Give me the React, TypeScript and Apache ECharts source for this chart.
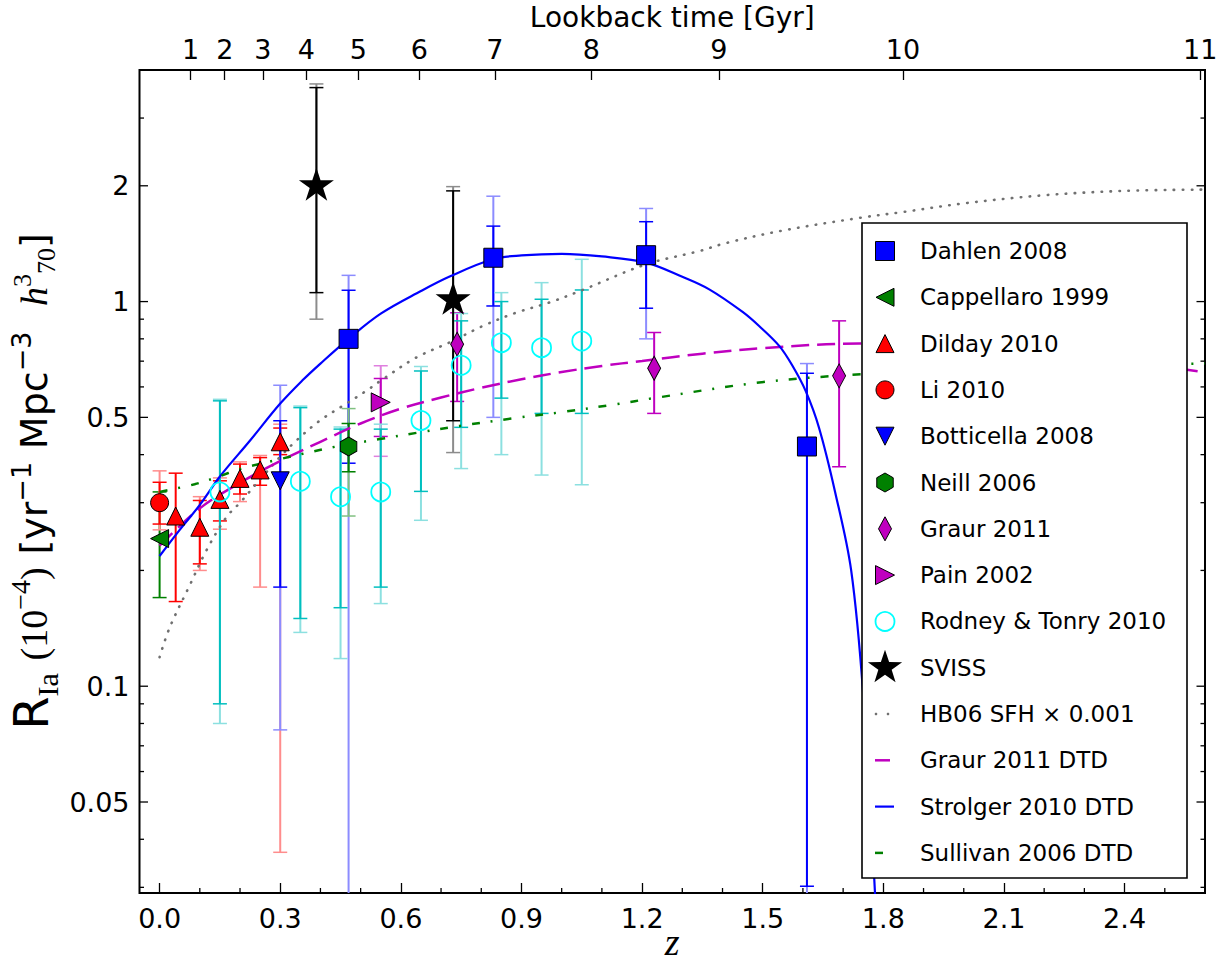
import React, { useEffect, useRef } from "react";
import * as echarts from "echarts";

// ---------- axes ----------
const X_MIN = -0.05;
const X_MAX = 2.6;
const Y_MIN = 0.029;
const Y_MAX = 4;

const xMajorTicks = [0, 0.3, 0.6, 0.9, 1.2, 1.5, 1.8, 2.1, 2.4];
const xMinorTicks = [0.1, 0.2, 0.4, 0.5, 0.7, 0.8, 1.0, 1.1, 1.3, 1.4, 1.6, 1.7, 1.9, 2.0, 2.2, 2.3, 2.5];
const yMajorTicks = [0.05, 0.1, 0.5, 1, 2];
const yMinorTicks = [0.03, 0.04, 0.06, 0.07, 0.08, 0.09, 0.2, 0.3, 0.4, 0.6, 0.7, 0.8, 0.9, 3];
const lookbackLabels = ["1", "2", "3", "4", "5", "6", "7", "8", "9", "10", "11"];
const lookbackZ = [0.077, 0.162, 0.257, 0.365, 0.494, 0.646, 0.834, 1.074, 1.391, 1.849, 2.588];

// ---------- measurements: [z, rate, statLo, statHi, totLo, totHi] ----------
const dahlen2008 = [
  [0.47, 0.8, 0.38, 1.07, 0.001, 1.17],
  [0.83, 1.3, 0.974, 1.571, 0.5, 1.879],
  [1.21, 1.32, 0.961, 1.613, 0.8, 1.746],
  [1.61, 0.42, 0.0302, 0.651, 0.001, 0.69],
];
const cappellaro1999 = [[0.0, 0.242, 0.17, 0.32, null, null]];
const dilday2010 = [
  [0.04, 0.277, 0.166, 0.358, null, null],
  [0.1, 0.259, 0.208, 0.304, 0.2, 0.311],
  [0.15, 0.306, 0.269, 0.342, 0.256, 0.348],
  [0.2, 0.347, 0.316, 0.378, 0.302, 0.383],
  [0.25, 0.365, 0.333, 0.393, 0.181, 0.398],
  [0.3, 0.432, 0.4, 0.469, 0.037, 0.48],
];
const li2010 = [[0.0, 0.3, 0.264, 0.339, 0.255, 0.363]];
const botticella2008 = [[0.3, 0.342, 0.181, 0.49, 0.077, 0.606]];
const neill2006 = [[0.47, 0.42, 0.361, 0.482, 0.277, 0.527]];
const graur2011 = [
  [0.74, 0.775, 0.55, 0.935, null, null],
  [1.23, 0.671, 0.512, 0.831, null, null],
  [1.69, 0.641, 0.372, 0.891, null, null],
];
const pain2002 = [[0.55, 0.547, 0.446, 0.631, 0.396, 0.681]];
const rodneyTonry2010 = [
  [0.15, 0.32, 0.09, 0.552, 0.08, 0.557],
  [0.35, 0.341, 0.15, 0.53, 0.138, 0.535],
  [0.45, 0.311, 0.16, 0.466, 0.118, 0.472],
  [0.55, 0.32, 0.181, 0.466, 0.164, 0.48],
  [0.65, 0.491, 0.321, 0.66, 0.27, 0.678],
  [0.75, 0.683, 0.471, 0.891, 0.368, 0.931],
  [0.85, 0.782, 0.561, 1.0, 0.4, 1.055],
  [0.95, 0.759, 0.512, 1.014, 0.354, 1.12],
  [1.05, 0.79, 0.512, 1.072, 0.334, 1.288],
];
const sviss = [
  [0.39, 2.02, 1.055, 3.6, 0.9, 3.68],
  [0.73, 1.02, 0.49, 1.94, 0.405, 1.99],
];

// ---------- model curves: [z, rate] ----------
const hb06Sfh = [
  [0.0, 0.119], [0.025, 0.142], [0.075, 0.183], [0.116, 0.225], [0.166, 0.275], [0.2, 0.3],
  [0.25, 0.345], [0.3, 0.395], [0.34, 0.435], [0.398, 0.49], [0.456, 0.536], [0.514, 0.586],
  [0.555, 0.628], [0.638, 0.715], [0.721, 0.783], [0.804, 0.864], [0.887, 0.936], [0.969, 0.994],
  [1.05, 1.07], [1.21, 1.25], [1.342, 1.353], [1.409, 1.42], [1.55, 1.53], [1.74, 1.65],
  [1.85, 1.71], [2.0, 1.8], [2.2, 1.89], [2.4, 1.94], [2.6, 1.955],
];
const graurDtd = [
  [0.0, 0.232], [0.1, 0.29], [0.2, 0.338], [0.3, 0.385], [0.4, 0.432], [0.5, 0.482],
  [0.6, 0.527], [0.7, 0.563], [0.8, 0.597], [0.9, 0.628], [1.0, 0.656], [1.1, 0.68],
  [1.2, 0.701], [1.35, 0.732], [1.5, 0.757], [1.74, 0.778], [2.0, 0.77], [2.3, 0.72],
  [2.6, 0.655],
];
const strolgerDtd = [
  [0.0, 0.218], [0.05, 0.255], [0.1, 0.296], [0.15, 0.351], [0.224, 0.434], [0.3, 0.543],
  [0.356, 0.625], [0.4, 0.69], [0.47, 0.8], [0.55, 0.93], [0.65, 1.065], [0.72, 1.16],
  [0.83, 1.29], [0.9, 1.318], [1.0, 1.33], [1.1, 1.31], [1.21, 1.263], [1.3, 1.16],
  [1.367, 1.076], [1.45, 0.94], [1.491, 0.864], [1.541, 0.767], [1.574, 0.681], [1.607, 0.585],
  [1.64, 0.47], [1.68, 0.32], [1.72, 0.2], [1.75, 0.095], [1.78, 0.028],
];
const sullivanDtd = [
  [0.0, 0.32], [0.087, 0.335], [0.141, 0.349], [0.2, 0.367], [0.298, 0.389], [0.356, 0.402],
  [0.44, 0.42], [0.547, 0.439], [0.646, 0.457], [0.746, 0.475], [0.878, 0.497], [1.0, 0.516],
  [1.135, 0.541], [1.229, 0.561], [1.491, 0.616], [1.723, 0.645], [2.0, 0.665], [2.3, 0.68],
  [2.6, 0.69],
];

const legendNames = [
  "Dahlen 2008", "Cappellaro 1999", "Dilday 2010", "Li 2010", "Botticella 2008", "Neill 2006",
  "Graur 2011", "Pain 2002", "Rodney & Tonry 2010", "SVISS", "HB06 SFH \u00d7 0.001",
  "Graur 2011 DTD", "Strolger 2010 DTD", "Sullivan 2006 DTD",
];

// ---------- styles ----------
const BLUE = "#0000ff";
const RED = "#ff0000";
const GREEN = "#008000";
const MAG = "#bf00bf";
const CYAN_BAR = "#00bfbf";
const CYAN = "#00ffff";
const GRAY = "#707070";
const STAR_PATH =
  "path://M50,0L61.23,34.55L97.55,34.55L68.17,55.9L79.39,90.45L50,69.1L20.61,90.45L31.83,55.9L2.45,34.55L38.77,34.55Z";
const HEX_PATH = "path://M50,0L93.3,25L93.3,75L50,100L6.7,75L6.7,25Z";
const SANS = "DejaVu Sans";
const SERIF = "Liberation Serif";

function errSeries(name: string, rows: any[], color: string, light: string) {
  return {
    type: "custom",
    name,
    silent: true,
    z: 2,
    data: rows,
    encode: { x: 0, y: 1 },
    renderItem: (params: any, api: any) => {
      const cs = params.coordSys;
      const top = cs.y;
      const bottom = cs.y + cs.height;
      const z = api.value(0);
      const children: any[] = [];
      const bar = (lo: number, hi: number, stroke: string) => {
        if (!(lo > 0) || !(hi > 0)) return;
        const pHi = api.coord([z, hi]);
        const pLo = api.coord([z, lo]);
        const x = pHi[0];
        const yHi = Math.max(top, Math.min(bottom, pHi[1]));
        const yLo = Math.max(top, Math.min(bottom, pLo[1]));
        children.push({ type: "line", shape: { x1: x, y1: yLo, x2: x, y2: yHi }, style: { stroke, lineWidth: 2 } });
        [pHi[1], pLo[1]].forEach((yy) => {
          if (yy >= top && yy <= bottom)
            children.push({ type: "line", shape: { x1: x - 7, y1: yy, x2: x + 7, y2: yy }, style: { stroke, lineWidth: 1.5 } });
        });
      };
      bar(api.value(4), api.value(5), light);
      bar(api.value(2), api.value(3), color);
      return { type: "group", children };
    },
  };
}

function scatterSeries(name: string, rows: any[], symbol: string, size: any, color: string, rotate = 0, extra: any = {}) {
  return {
    type: "scatter",
    name,
    silent: true,
    z: 5,
    symbol,
    symbolSize: size,
    symbolRotate: rotate,
    data: rows.map((r) => [r[0], r[1]]),
    itemStyle: { color, borderColor: "#000", borderWidth: 1, opacity: 1, ...extra },
  };
}

function lineSeries(name: string, data: number[][], lineStyle: any) {
  return {
    type: "line",
    name,
    silent: true,
    z: 4,
    data,
    showSymbol: false,
    symbol: "none",
    smooth: 0.35,
    clip: true,
    lineStyle,
  };
}

const tickSeries = {
  type: "custom",
  name: "ticks",
  silent: true,
  z: 6,
  data: [[X_MIN, Y_MIN]],
  encode: { x: 0, y: 1 },
  renderItem: (params: any, api: any) => {
    const cs = params.coordSys;
    const left = cs.x;
    const right = cs.x + cs.width;
    const bottom = cs.y + cs.height;
    const st = { stroke: "#000", lineWidth: 1.3 };
    const ch: any[] = [];
    xMinorTicks.forEach((v) => {
      const x = api.coord([v, Y_MIN])[0];
      ch.push({ type: "line", shape: { x1: x, y1: bottom, x2: x, y2: bottom - 5 }, style: st });
    });
    yMinorTicks.forEach((v) => {
      const y = api.coord([X_MIN, v])[1];
      ch.push({ type: "line", shape: { x1: left, y1: y, x2: left + 4.5, y2: y }, style: st });
      ch.push({ type: "line", shape: { x1: right, y1: y, x2: right - 4.5, y2: y }, style: st });
    });
    yMajorTicks.forEach((v) => {
      const y = api.coord([X_MIN, v])[1];
      ch.push({ type: "line", shape: { x1: left, y1: y, x2: left + 8.5, y2: y }, style: st });
      ch.push({ type: "line", shape: { x1: right, y1: y, x2: right - 8.5, y2: y }, style: st });
      ch.push({
        type: "text",
        x: left - 10,
        y,
        style: { text: String(v), fill: "#000", fontSize: 27, fontFamily: SANS, align: "right", verticalAlign: "middle" },
      });
    });
    return { type: "group", children: ch };
  },
};

// ---------- legend (drawn with graphic) ----------
function starPoints(cx: number, cy: number, ro: number, ri: number) {
  const pts: number[][] = [];
  for (let i = 0; i < 10; i++) {
    const a = ((-90 + i * 36) * Math.PI) / 180;
    const r = i % 2 === 0 ? ro : ri;
    pts.push([cx + r * Math.cos(a), cy + r * Math.sin(a)]);
  }
  return pts;
}
function hexPoints(cx: number, cy: number, r: number) {
  const pts: number[][] = [];
  for (let i = 0; i < 6; i++) {
    const a = ((-90 + i * 60) * Math.PI) / 180;
    pts.push([cx + r * Math.cos(a), cy + r * Math.sin(a)]);
  }
  return pts;
}

function legendGraphic() {
  const L = 862, T = 223, W = 325, H = 655;
  const mx = 885, tx = 920, y0 = 251, dy = 46.3;
  const els: any[] = [
    { type: "rect", z: 100, shape: { x: L, y: T, width: W, height: H }, style: { fill: "#fff", stroke: "#000", lineWidth: 1.6 } },
  ];
  const edge = { stroke: "#000", lineWidth: 1 };
  legendNames.forEach((name, i) => {
    const cy = y0 + i * dy;
    let m: any[] = [];
    switch (i) {
      case 0: m = [{ type: "rect", shape: { x: mx - 9.5, y: cy - 9.5, width: 19, height: 19 }, style: { fill: BLUE, ...edge } }]; break;
      case 1: m = [{ type: "polygon", shape: { points: [[mx - 9, cy], [mx + 9, cy - 9], [mx + 9, cy + 9]] }, style: { fill: GREEN, ...edge } }]; break;
      case 2: m = [{ type: "polygon", shape: { points: [[mx, cy - 9], [mx + 9, cy + 9], [mx - 9, cy + 9]] }, style: { fill: RED, ...edge } }]; break;
      case 3: m = [{ type: "circle", shape: { cx: mx, cy, r: 9 }, style: { fill: RED, ...edge } }]; break;
      case 4: m = [{ type: "polygon", shape: { points: [[mx - 9, cy - 9], [mx + 9, cy - 9], [mx, cy + 9]] }, style: { fill: BLUE, ...edge } }]; break;
      case 5: m = [{ type: "polygon", shape: { points: hexPoints(mx, cy, 9.5) }, style: { fill: GREEN, ...edge } }]; break;
      case 6: m = [{ type: "polygon", shape: { points: [[mx, cy - 12], [mx + 6.5, cy], [mx, cy + 12], [mx - 6.5, cy]] }, style: { fill: MAG, ...edge } }]; break;
      case 7: m = [{ type: "polygon", shape: { points: [[mx + 9.5, cy], [mx - 9.5, cy - 9.5], [mx - 9.5, cy + 9.5]] }, style: { fill: MAG, ...edge } }]; break;
      case 8: m = [{ type: "circle", shape: { cx: mx, cy, r: 9.5 }, style: { fill: "none", stroke: CYAN, lineWidth: 1.8 } }]; break;
      case 9: m = [{ type: "polygon", shape: { points: starPoints(mx, cy, 18, 7) }, style: { fill: "#000" } }]; break;
      case 10:
        m = [
          { type: "circle", shape: { cx: mx - 9, cy, r: 1.3 }, style: { fill: GRAY } },
          { type: "circle", shape: { cx: mx + 3, cy, r: 1.3 }, style: { fill: GRAY } },
        ];
        break;
      case 11: m = [{ type: "line", shape: { x1: mx - 10, y1: cy, x2: mx + 5, y2: cy }, style: { stroke: MAG, lineWidth: 2.5 } }]; break;
      case 12: m = [{ type: "line", shape: { x1: mx - 10, y1: cy, x2: mx + 9, y2: cy }, style: { stroke: BLUE, lineWidth: 2.2 } }]; break;
      case 13: m = [{ type: "line", shape: { x1: mx - 10, y1: cy, x2: mx - 2, y2: cy }, style: { stroke: GREEN, lineWidth: 2.5 } }]; break;
    }
    m.forEach((e) => els.push({ ...e, z: 101 }));
    els.push({
      type: "text",
      z: 101,
      x: tx,
      y: cy,
      style: { text: name, fill: "#000", fontSize: 23, fontFamily: SANS, align: "left", verticalAlign: "middle" },
    });
  });
  return els;
}

const yName =
  "{R|R}{sub|Ia}{sp| }{m|(10}{sup|\u22124}{m|)}{sp| }{t|[yr}{sup2|\u22121}{sp| }{t|Mpc}{sup2|\u22123}{sp|  }{mi|h}{sup3|3}{sub3|70}{t|]}";

const option: any = {
  animation: false,
  backgroundColor: "#ffffff",
  grid: {
    left: 139.5,
    right: 25,
    top: 70,
    bottom: 69,
    show: true,
    borderColor: "#000",
    borderWidth: 2,
    backgroundColor: "rgba(0,0,0,0)",
    containLabel: false,
    outerBoundsMode: "none",
  },
  xAxis: [
    {
      type: "value",
      min: X_MIN,
      max: X_MAX,
      position: "bottom",
      axisLine: { show: false },
      splitLine: { show: false },
      axisTick: { show: true, inside: true, length: 10, customValues: xMajorTicks, lineStyle: { color: "#000", width: 1.3 } },
      axisLabel: {
        customValues: xMajorTicks,
        formatter: (v: number) => v.toFixed(1),
        fontSize: 27,
        color: "#000",
        fontFamily: SANS,
        margin: 12,
      },
      name: "z",
      nameLocation: "middle",
      nameGap: 30,
      nameMoveOverlap: false,
      nameTextStyle: { fontSize: 38, fontStyle: "italic", fontFamily: SERIF, color: "#000" },
    },
    {
      type: "value",
      min: X_MIN,
      max: X_MAX,
      position: "top",
      axisLine: { show: false },
      splitLine: { show: false },
      axisTick: { show: true, inside: true, length: 10, customValues: lookbackZ, lineStyle: { color: "#000", width: 1.3 } },
      axisLabel: {
        customValues: lookbackZ,
        formatter: (v: number) => {
          let best = 0;
          lookbackZ.forEach((z, i) => {
            if (Math.abs(z - v) < Math.abs(lookbackZ[best] - v)) best = i;
          });
          return lookbackLabels[best];
        },
        fontSize: 27,
        color: "#000",
        fontFamily: SANS,
        margin: 7,
      },
      name: "Lookback time [Gyr]",
      nameLocation: "middle",
      nameGap: 39,
      nameMoveOverlap: false,
      nameTextStyle: { fontSize: 28, fontFamily: SANS, color: "#000" },
    },
  ],
  yAxis: [
    {
      type: "log",
      logBase: 10,
      min: Y_MIN,
      max: Y_MAX,
      position: "left",
      axisLine: { show: false },
      splitLine: { show: false },
      axisTick: { show: false },
      axisLabel: { show: false },
      minorTick: { show: false },
      name: yName,
      nameLocation: "middle",
      nameRotate: 90,
      nameGap: 76,
      nameMoveOverlap: false,
      nameTextStyle: {
        color: "#000",
        rich: {
          R: { fontSize: 48, fontFamily: SANS, lineHeight: 64, verticalAlign: "bottom", padding: [0, 0, 8.8, 0] },
          sub: { fontSize: 30, fontFamily: SERIF, verticalAlign: "bottom", padding: [0, 0, 1.5, 0] },
          sp: { fontSize: 40, fontFamily: SANS, verticalAlign: "bottom", padding: [0, 0, 10, 0] },
          m: { fontSize: 38, fontFamily: SERIF, verticalAlign: "bottom", padding: [0, 0, 10.3, 0] },
          mi: { fontSize: 38, fontFamily: SERIF, fontStyle: "italic", verticalAlign: "bottom", padding: [0, 0, 10.3, 0] },
          sup: { fontSize: 28, fontFamily: SERIF, verticalAlign: "bottom", padding: [0, 0, 28.8, 0] },
          t: { fontSize: 38, fontFamily: SANS, verticalAlign: "bottom", padding: [0, 0, 10.3, 0] },
          sup2: { fontSize: 27, fontFamily: SANS, verticalAlign: "bottom", padding: [0, 0, 29, 0] },
          sup3: { fontSize: 26, fontFamily: SERIF, verticalAlign: "bottom", padding: [0, 0, 28.1, 0] },
          sub3: { fontSize: 26, fontFamily: SERIF, verticalAlign: "bottom", padding: [0, 0, 4.1, 0] },
        },
      },
    },
  ],
  graphic: { elements: legendGraphic() },
  series: [
    tickSeries,
    errSeries("Dahlen 2008 err", dahlen2008, BLUE, "#8c8cff"),
    errSeries("Cappellaro 1999 err", cappellaro1999, GREEN, "#80c080"),
    errSeries("Dilday 2010 err", dilday2010, RED, "#ff8c8c"),
    errSeries("Li 2010 err", li2010, RED, "#ff8c8c"),
    errSeries("Botticella 2008 err", botticella2008, BLUE, "#8c8cff"),
    errSeries("Neill 2006 err", neill2006, GREEN, "#80c080"),
    errSeries("Graur 2011 err", graur2011, MAG, "#df80df"),
    errSeries("Pain 2002 err", pain2002, MAG, "#df80df"),
    errSeries("Rodney & Tonry 2010 err", rodneyTonry2010, CYAN_BAR, "#8ce0e0"),
    errSeries("SVISS err", sviss, "#000000", "#8c8c8c"),
    lineSeries("HB06 SFH \u00d7 0.001", hb06Sfh, { color: GRAY, width: 2.6, type: [0.5, 8.5], cap: "round" }),
    lineSeries("Graur 2011 DTD", graurDtd, { color: MAG, width: 2.5, type: [18, 8] }),
    lineSeries("Strolger 2010 DTD", strolgerDtd, { color: BLUE, width: 2.2, type: "solid" }),
    lineSeries("Sullivan 2006 DTD", sullivanDtd, { color: GREEN, width: 2.5, type: [8, 11, 2, 11] }),
    scatterSeries("Dahlen 2008", dahlen2008, "rect", 19, BLUE),
    scatterSeries("Cappellaro 1999", cappellaro1999, "triangle", 18, GREEN, 90),
    scatterSeries("Dilday 2010", dilday2010, "triangle", 18, RED),
    scatterSeries("Li 2010", li2010, "circle", 18, RED),
    scatterSeries("Botticella 2008", botticella2008, "triangle", 18, BLUE, 180),
    scatterSeries("Neill 2006", neill2006, HEX_PATH, [16.5, 19], GREEN),
    scatterSeries("Graur 2011", graur2011, "diamond", [13, 24], MAG),
    scatterSeries("Pain 2002", pain2002, "triangle", 19, MAG, -90),
    scatterSeries("Rodney & Tonry 2010", rodneyTonry2010, "circle", 19, "rgba(0,0,0,0)", 0, {
      borderColor: CYAN,
      borderWidth: 1.8,
    }),
    scatterSeries("SVISS", sviss, STAR_PATH, [35, 33], "#000000", 0, { borderWidth: 0 }),
  ],
};

export default function App() {
  const ref = useRef<HTMLDivElement>(null);
  useEffect(() => {
    if (!ref.current) return;
    const chart = echarts.init(ref.current, null, { renderer: "svg" });
    chart.setOption(option);
    return () => chart.dispose();
  }, []);
  return (
    <div
      ref={ref}
      style={{ position: "absolute", left: 0, top: 0, width: 1230, height: 962, background: "#fff" }}
    />
  );
}
